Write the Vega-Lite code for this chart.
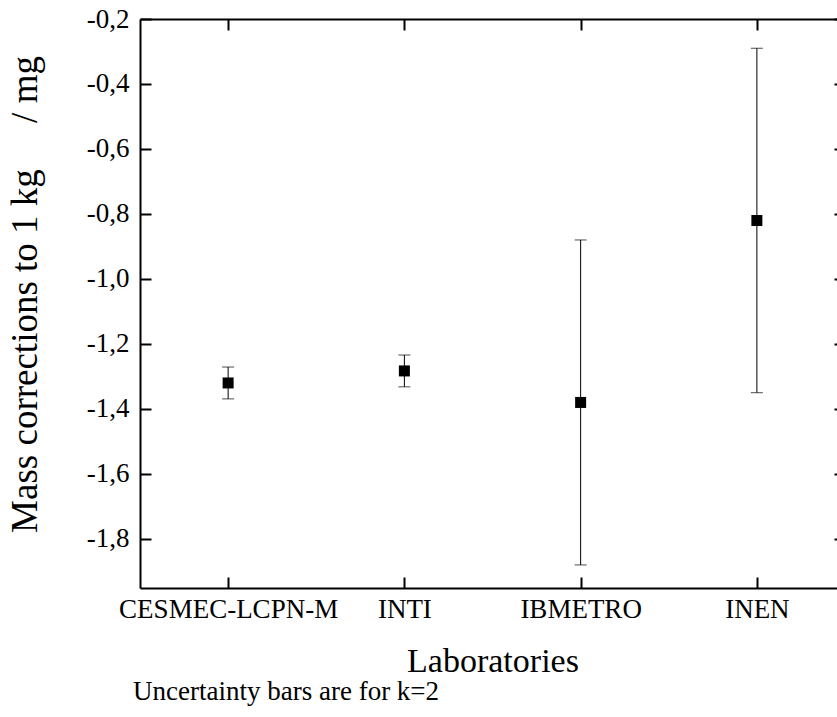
{
  "$schema": "https://vega.github.io/schema/vega-lite/v6.json",
  "autosize": {"type": "none"},
  "padding": {"left": 140, "top": 19, "right": 0, "bottom": 129},
  "width": 697,
  "height": 569,
  "background": "white",
  "config": {
    "view": {"stroke": null},
    "font": "Liberation Serif",
    "axis": {
      "labelFont": "Liberation Serif",
      "titleFont": "Liberation Serif",
      "labelColor": "black",
      "titleColor": "black",
      "domainColor": "black",
      "tickColor": "black",
      "domainWidth": 2,
      "tickWidth": 2,
      "grid": false,
      "labelLimit": 0,
      "titleFontWeight": "normal"
    }
  },
  "title": {
    "text": "Uncertainty bars are for k=2",
    "orient": "bottom",
    "anchor": "start",
    "frame": "group",
    "font": "Liberation Serif",
    "fontSize": 27,
    "fontWeight": "normal",
    "color": "black",
    "offset": 1,
    "dx": -7
  },
  "data": {
    "values": [
      {"lab": "CESMEC-LCPN-M", "value": -1.32, "lo": -1.369, "hi": -1.271},
      {"lab": "INTI", "value": -1.283, "lo": -1.332, "hi": -1.234},
      {"lab": "IBMETRO", "value": -1.38, "lo": -1.88, "hi": -0.88},
      {"lab": "INEN", "value": -0.82, "lo": -1.35, "hi": -0.29}
    ]
  },
  "layer": [
    {
      "mark": {"type": "rule", "color": "black", "strokeWidth": 1},
      "encoding": {
        "x": {
          "field": "lab", "type": "nominal", "sort": null,
          "scale": {"type": "point", "padding": 0.5, "range": [0, 705]},
          "axis": {
            "orient": "bottom", "title": "Laboratories", "titleFontSize": 34,
            "labelFontSize": 27, "labelAngle": 0, "tickSize": -11,
            "labelPadding": 19, "titlePadding": 22
          }
        },
        "y": {
          "field": "lo", "type": "quantitative",
          "scale": {"domain": [-1.951, -0.2], "nice": false, "zero": false},
          "axis": {
            "orient": "left",
            "title": "Mass corrections to 1 kg\u00a0\u00a0\u00a0\u00a0 / mg",
            "titleFontSize": 37,
            "titleY": 275,
            "labelFontSize": 27,
            "values": [-0.2, -0.4, -0.6, -0.8, -1.0, -1.2, -1.4, -1.6, -1.8],
            "labelExpr": "replace(replace(format(datum.value, '.1f'), '.', ','), '\u2212', '-')",
            "tickSize": -11,
            "labelPadding": 22,
            "titlePadding": 42
          }
        },
        "y2": {"field": "hi"}
      }
    },
    {
      "mark": {"type": "tick", "color": "black", "thickness": 1, "size": 12},
      "encoding": {
        "x": {
          "field": "lab", "type": "nominal", "sort": null,
          "axis": {"orient": "top", "labels": false, "title": null, "tickSize": -11}
        },
        "y": {
          "field": "lo", "type": "quantitative",
          "axis": {
            "orient": "right", "labels": false, "title": null, "tickSize": -11, "offset": 8,
            "values": [-0.2, -0.4, -0.6, -0.8, -1.0, -1.2, -1.4, -1.6, -1.8]
          }
        }
      }
    },
    {
      "mark": {"type": "tick", "color": "black", "thickness": 1, "size": 12},
      "encoding": {
        "x": {"field": "lab", "type": "nominal", "sort": null, "axis": null},
        "y": {"field": "hi", "type": "quantitative", "axis": null}
      }
    },
    {
      "mark": {"type": "point", "shape": "square", "filled": true, "color": "black", "size": 121, "opacity": 1},
      "encoding": {
        "x": {"field": "lab", "type": "nominal", "sort": null, "axis": null},
        "y": {"field": "value", "type": "quantitative", "axis": null}
      }
    }
  ],
  "resolve": {"axis": {"x": "independent", "y": "independent"}}
}
